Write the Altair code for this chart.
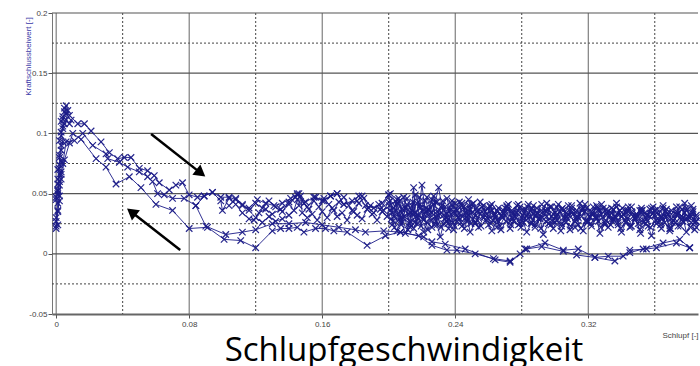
import altair as alt
import pandas as pd

# ---- data (x = Schlupf, y = Kraftschlussbeiwert) ----
ramp_up = [(0.000, 0.023), (0.000, 0.030), (0.001, 0.042), (0.000, 0.047), (0.001, 0.050), (0.001, 0.058),
           (0.002, 0.066), (0.001, 0.070), (0.002, 0.074), (0.002, 0.082), (0.003, 0.090), (0.002, 0.094),
           (0.003, 0.098), (0.004, 0.106), (0.003, 0.110), (0.004, 0.112), (0.005, 0.118), (0.006, 0.123),
           (0.008, 0.115), (0.013, 0.108), (0.017, 0.108), (0.021, 0.102), (0.027, 0.093), (0.032, 0.084),
           (0.037, 0.079), (0.041, 0.080), (0.045, 0.080), (0.050, 0.071), (0.055, 0.069), (0.059, 0.065),
           (0.062, 0.059), (0.068, 0.053), (0.072, 0.057), (0.076, 0.059), (0.080, 0.049), (0.085, 0.047),
           (0.089, 0.048), (0.094, 0.051), (0.099, 0.047), (0.104, 0.047), (0.108, 0.045), (0.112, 0.040),
           (0.116, 0.038), (0.121, 0.045), (0.126, 0.042), (0.131, 0.040), (0.136, 0.042), (0.141, 0.046),
           (0.145, 0.049), (0.150, 0.043), (0.155, 0.047), (0.160, 0.044), (0.165, 0.048), (0.169, 0.050),
           (0.173, 0.041), (0.178, 0.044), (0.182, 0.048), (0.186, 0.040), (0.191, 0.038), (0.196, 0.042),
           (0.200, 0.049)]

ramp_dense = [(0.001, 0.024), (0.000, 0.027), (0.001, 0.036), (0.002, 0.044), (0.001, 0.053), (0.002, 0.057),
              (0.001, 0.062), (0.003, 0.066), (0.002, 0.071), (0.003, 0.077), (0.002, 0.080), (0.003, 0.086),
              (0.004, 0.093), (0.003, 0.101), (0.004, 0.104), (0.005, 0.108), (0.004, 0.114), (0.006, 0.116),
              (0.005, 0.121), (0.007, 0.119), (0.006, 0.111), (0.008, 0.108), (0.009, 0.111)]

middle_curve = [(0.000, 0.045), (0.001, 0.052), (0.002, 0.060), (0.003, 0.068), (0.004, 0.075), (0.006, 0.093),
                (0.011, 0.094), (0.016, 0.100), (0.022, 0.090), (0.030, 0.083), (0.031, 0.079), (0.038, 0.076),
                (0.043, 0.072), (0.050, 0.068), (0.055, 0.064), (0.058, 0.060), (0.061, 0.050), (0.065, 0.049),
                (0.070, 0.046), (0.077, 0.046), (0.084, 0.040), (0.089, 0.048), (0.094, 0.051), (0.099, 0.044),
                (0.100, 0.036), (0.104, 0.046), (0.108, 0.041), (0.112, 0.034), (0.116, 0.029), (0.119, 0.028),
                (0.122, 0.034), (0.126, 0.037), (0.130, 0.033), (0.135, 0.037), (0.140, 0.041), (0.145, 0.050),
                (0.151, 0.039), (0.156, 0.047), (0.161, 0.044), (0.165, 0.048), (0.169, 0.050), (0.173, 0.041),
                (0.181, 0.044), (0.184, 0.048), (0.189, 0.040), (0.195, 0.037), (0.201, 0.050)]

low_curve = [(0.000, 0.021), (0.001, 0.035), (0.002, 0.048), (0.003, 0.062), (0.005, 0.078), (0.008, 0.092),
             (0.010, 0.100), (0.015, 0.095), (0.024, 0.079), (0.030, 0.072), (0.036, 0.058), (0.044, 0.064),
             (0.051, 0.055), (0.060, 0.041), (0.070, 0.036), (0.080, 0.021), (0.091, 0.022), (0.101, 0.012),
             (0.111, 0.011), (0.120, 0.005), (0.130, 0.019), (0.135, 0.021), (0.140, 0.021), (0.145, 0.022),
             (0.149, 0.018), (0.156, 0.021), (0.162, 0.021), (0.167, 0.019), (0.175, 0.018), (0.187, 0.007),
             (0.198, 0.015), (0.207, 0.018), (0.218, 0.015), (0.226, 0.007), (0.235, 0.003), (0.241, 0.003),
             (0.252, 0.000), (0.263, -0.004), (0.273, -0.006), (0.279, 0.000), (0.282, 0.004), (0.294, 0.009),
             (0.305, 0.003), (0.314, 0.004), (0.324, -0.003), (0.332, -0.002), (0.341, -0.002), (0.345, 0.003),
             (0.355, 0.004), (0.361, 0.005), (0.373, 0.009), (0.381, 0.005)]

low_curve_2 = [(0.084, 0.040), (0.090, 0.023), (0.102, 0.016), (0.112, 0.018), (0.120, 0.020), (0.130, 0.025),
               (0.140, 0.025), (0.150, 0.026), (0.160, 0.024), (0.170, 0.022), (0.180, 0.020), (0.186, 0.018),
               (0.197, 0.019), (0.207, 0.018), (0.221, 0.014), (0.226, 0.010), (0.234, 0.008), (0.246, 0.004),
               (0.264, -0.005), (0.273, -0.007), (0.283, 0.004), (0.292, 0.006), (0.305, 0.002), (0.313, -0.001),
               (0.324, -0.003), (0.336, -0.006), (0.345, 0.001), (0.353, 0.004), (0.365, 0.009), (0.375, 0.012),
               (0.381, 0.005)]

mid_band = [(0.120, 0.030), (0.124, 0.026), (0.128, 0.031), (0.132, 0.027), (0.136, 0.029), (0.140, 0.032),
            (0.143, 0.036), (0.145, 0.045), (0.146, 0.040), (0.147, 0.048), (0.148, 0.034), (0.151, 0.030),
            (0.154, 0.033), (0.157, 0.028), (0.160, 0.035), (0.163, 0.030), (0.166, 0.038), (0.169, 0.031),
            (0.172, 0.034), (0.175, 0.028), (0.178, 0.036), (0.181, 0.032), (0.184, 0.029), (0.187, 0.037),
            (0.190, 0.033), (0.193, 0.028), (0.196, 0.035), (0.199, 0.031), (0.201, 0.044)]

mid_band_2 = [(0.104, 0.040), (0.108, 0.046), (0.112, 0.041), (0.116, 0.036), (0.120, 0.042), (0.124, 0.038),
              (0.128, 0.044), (0.132, 0.039), (0.136, 0.035), (0.140, 0.043), (0.144, 0.047), (0.146, 0.050),
              (0.149, 0.042), (0.152, 0.037), (0.155, 0.044), (0.158, 0.039), (0.161, 0.046), (0.164, 0.041),
              (0.167, 0.036), (0.170, 0.043), (0.173, 0.047), (0.176, 0.040), (0.179, 0.035), (0.182, 0.042),
              (0.185, 0.046), (0.188, 0.038), (0.191, 0.034), (0.194, 0.041), (0.197, 0.036), (0.200, 0.043)]

band_a = [(0.200, 0.049), (0.203, 0.031), (0.205, 0.042), (0.208, 0.026), (0.210, 0.038), (0.213, 0.022),
          (0.215, 0.055), (0.216, 0.034), (0.219, 0.041), (0.221, 0.028), (0.224, 0.036), (0.226, 0.045),
          (0.229, 0.024), (0.231, 0.033), (0.234, 0.039), (0.236, 0.021), (0.239, 0.035), (0.242, 0.030),
          (0.244, 0.042), (0.247, 0.027), (0.249, 0.037), (0.252, 0.025), (0.255, 0.033), (0.257, 0.040),
          (0.260, 0.029), (0.262, 0.036), (0.265, 0.022), (0.268, 0.031), (0.270, 0.038), (0.273, 0.027),
          (0.275, 0.034), (0.278, 0.041), (0.281, 0.026), (0.283, 0.032), (0.286, 0.037), (0.288, 0.024),
          (0.291, 0.030), (0.294, 0.036), (0.296, 0.028), (0.299, 0.033), (0.301, 0.039), (0.304, 0.025),
          (0.307, 0.031), (0.309, 0.035), (0.312, 0.022), (0.314, 0.030), (0.317, 0.038), (0.320, 0.027),
          (0.322, 0.033), (0.325, 0.029), (0.327, 0.036), (0.330, 0.024), (0.333, 0.032), (0.335, 0.037),
          (0.338, 0.026), (0.340, 0.031), (0.343, 0.034), (0.346, 0.023), (0.348, 0.030), (0.351, 0.036),
          (0.353, 0.028), (0.356, 0.032), (0.359, 0.039), (0.361, 0.025), (0.364, 0.030), (0.366, 0.035),
          (0.369, 0.021), (0.372, 0.029), (0.374, 0.034), (0.377, 0.027), (0.379, 0.038), (0.382, 0.031),
          (0.384, 0.026)]

band_b = [(0.201, 0.036), (0.204, 0.044), (0.206, 0.028), (0.209, 0.047), (0.212, 0.033), (0.214, 0.040),
          (0.217, 0.025), (0.220, 0.057), (0.222, 0.035), (0.225, 0.030), (0.228, 0.043), (0.230, 0.055),
          (0.233, 0.032), (0.235, 0.027), (0.238, 0.041), (0.240, 0.034), (0.243, 0.029), (0.246, 0.038),
          (0.248, 0.032), (0.251, 0.042), (0.253, 0.028), (0.256, 0.035), (0.259, 0.030), (0.261, 0.039),
          (0.264, 0.033), (0.266, 0.027), (0.269, 0.036), (0.272, 0.041), (0.274, 0.030), (0.277, 0.034),
          (0.279, 0.025), (0.282, 0.037), (0.285, 0.031), (0.287, 0.040), (0.290, 0.029), (0.292, 0.034),
          (0.295, 0.042), (0.298, 0.031), (0.300, 0.026), (0.303, 0.035), (0.305, 0.030), (0.308, 0.040),
          (0.311, 0.033), (0.313, 0.028), (0.316, 0.036), (0.318, 0.041), (0.321, 0.030), (0.324, 0.034),
          (0.326, 0.027), (0.329, 0.038), (0.331, 0.032), (0.334, 0.029), (0.337, 0.042), (0.339, 0.033),
          (0.342, 0.028), (0.344, 0.036), (0.347, 0.031), (0.350, 0.025), (0.352, 0.034), (0.355, 0.029),
          (0.357, 0.037), (0.360, 0.032), (0.363, 0.027), (0.365, 0.040), (0.368, 0.033), (0.370, 0.029),
          (0.373, 0.035), (0.376, 0.028), (0.378, 0.042), (0.381, 0.030), (0.383, 0.035), (0.385, 0.022)]

band_c = [(0.202, 0.024), (0.205, 0.019), (0.207, 0.030), (0.210, 0.017), (0.213, 0.027), (0.215, 0.021),
          (0.218, 0.032), (0.221, 0.018), (0.223, 0.026), (0.226, 0.022), (0.228, 0.031), (0.231, 0.014),
          (0.233, 0.025), (0.236, 0.029), (0.239, 0.020), (0.241, 0.027), (0.244, 0.023), (0.247, 0.031),
          (0.249, 0.018), (0.252, 0.026), (0.254, 0.022), (0.257, 0.030), (0.260, 0.024), (0.262, 0.019),
          (0.265, 0.028), (0.267, 0.023), (0.270, 0.032), (0.273, 0.021), (0.275, 0.027), (0.278, 0.024),
          (0.280, 0.030), (0.283, 0.018), (0.286, 0.026), (0.288, 0.022), (0.291, 0.029), (0.293, 0.016),
          (0.296, 0.025), (0.299, 0.021), (0.301, 0.028), (0.304, 0.023), (0.306, 0.030), (0.309, 0.020),
          (0.312, 0.027), (0.314, 0.024), (0.317, 0.019), (0.319, 0.028), (0.322, 0.023), (0.325, 0.030),
          (0.327, 0.017), (0.330, 0.026), (0.332, 0.022), (0.335, 0.029), (0.338, 0.024), (0.340, 0.018),
          (0.343, 0.027), (0.345, 0.022), (0.348, 0.030), (0.351, 0.020), (0.353, 0.026), (0.356, 0.023),
          (0.358, 0.015), (0.361, 0.028), (0.364, 0.021), (0.366, 0.026), (0.369, 0.019), (0.371, 0.028),
          (0.374, 0.023), (0.377, 0.030), (0.379, 0.018), (0.382, 0.026), (0.384, 0.020)]

band_d = [(0.203, 0.038), (0.206, 0.046), (0.208, 0.034), (0.211, 0.041), (0.214, 0.036), (0.216, 0.049),
          (0.219, 0.038), (0.222, 0.044), (0.224, 0.037), (0.227, 0.048), (0.229, 0.035), (0.232, 0.040),
          (0.235, 0.046), (0.237, 0.036), (0.240, 0.042), (0.242, 0.033), (0.245, 0.039), (0.248, 0.045),
          (0.250, 0.034), (0.253, 0.038), (0.255, 0.043), (0.258, 0.035), (0.261, 0.040), (0.263, 0.032),
          (0.266, 0.038), (0.269, 0.034), (0.271, 0.040), (0.274, 0.036), (0.276, 0.031), (0.279, 0.039),
          (0.282, 0.035), (0.284, 0.041), (0.287, 0.033), (0.289, 0.038), (0.292, 0.036), (0.295, 0.031),
          (0.297, 0.039), (0.300, 0.034), (0.302, 0.041), (0.305, 0.036), (0.308, 0.032), (0.310, 0.038),
          (0.313, 0.034), (0.315, 0.042), (0.318, 0.035), (0.321, 0.031), (0.323, 0.039), (0.326, 0.036),
          (0.328, 0.041), (0.331, 0.034), (0.334, 0.038), (0.336, 0.031), (0.339, 0.036), (0.341, 0.033),
          (0.344, 0.039), (0.346, 0.035), (0.349, 0.030), (0.352, 0.038), (0.354, 0.034), (0.357, 0.031),
          (0.360, 0.036), (0.362, 0.033), (0.365, 0.038), (0.367, 0.031), (0.370, 0.036), (0.373, 0.033),
          (0.375, 0.039), (0.378, 0.034), (0.380, 0.031), (0.383, 0.037), (0.385, 0.032)]

band_e = [(0.2005, 0.040), (0.2025, 0.027), (0.2045, 0.036), (0.2065, 0.044), (0.2085, 0.030), (0.2105, 0.039),
          (0.2125, 0.025), (0.2145, 0.043), (0.2165, 0.031), (0.2185, 0.047), (0.2205, 0.029), (0.2225, 0.038),
          (0.2245, 0.033), (0.2265, 0.041), (0.2285, 0.027), (0.2305, 0.036), (0.2325, 0.044), (0.2345, 0.030),
          (0.2365, 0.038), (0.2385, 0.026), (0.2405, 0.037), (0.2425, 0.043), (0.2445, 0.031), (0.2465, 0.035),
          (0.2485, 0.040), (0.2505, 0.029), (0.2535, 0.036), (0.2565, 0.031), (0.2595, 0.038), (0.2625, 0.028),
          (0.2655, 0.035), (0.2685, 0.030), (0.2715, 0.037), (0.2745, 0.029), (0.2775, 0.036), (0.2805, 0.032),
          (0.2835, 0.039), (0.2865, 0.028), (0.2895, 0.034), (0.2925, 0.030), (0.2955, 0.037), (0.2985, 0.027),
          (0.3015, 0.033), (0.3045, 0.038), (0.3075, 0.029), (0.3105, 0.035), (0.3135, 0.031), (0.3165, 0.037),
          (0.3195, 0.026), (0.3225, 0.034), (0.3255, 0.039), (0.3285, 0.030), (0.3315, 0.035), (0.3345, 0.027),
          (0.3375, 0.033), (0.3405, 0.038), (0.3435, 0.029), (0.3465, 0.034), (0.3495, 0.031), (0.3525, 0.036),
          (0.3555, 0.027), (0.3585, 0.033), (0.3615, 0.037), (0.3645, 0.029), (0.3675, 0.034), (0.3705, 0.026),
          (0.3735, 0.032), (0.3765, 0.037), (0.3795, 0.029), (0.3825, 0.034), (0.3850, 0.027)]

band_f = [(0.2015, 0.029), (0.2035, 0.022), (0.2055, 0.033), (0.2075, 0.024), (0.2095, 0.031), (0.2115, 0.020),
          (0.2135, 0.034), (0.2155, 0.026), (0.2175, 0.030), (0.2195, 0.023), (0.2215, 0.033), (0.2235, 0.020),
          (0.2255, 0.028), (0.2275, 0.024), (0.2295, 0.032), (0.2315, 0.022), (0.2335, 0.029), (0.2355, 0.025),
          (0.2375, 0.033), (0.2395, 0.023), (0.2415, 0.030), (0.2435, 0.026), (0.2455, 0.021), (0.2475, 0.029),
          (0.2495, 0.025), (0.2525, 0.032), (0.2555, 0.023), (0.2585, 0.028), (0.2615, 0.025), (0.2645, 0.031),
          (0.2675, 0.020), (0.2705, 0.027), (0.2735, 0.024), (0.2765, 0.030), (0.2795, 0.022), (0.2825, 0.028),
          (0.2855, 0.025), (0.2885, 0.032), (0.2915, 0.021), (0.2945, 0.027), (0.2975, 0.024), (0.3005, 0.031),
          (0.3035, 0.019), (0.3065, 0.026), (0.3095, 0.023), (0.3125, 0.030), (0.3155, 0.021), (0.3185, 0.027),
          (0.3215, 0.025), (0.3245, 0.031), (0.3275, 0.022), (0.3305, 0.028), (0.3335, 0.024), (0.3365, 0.030),
          (0.3395, 0.021), (0.3425, 0.026), (0.3455, 0.023), (0.3485, 0.029), (0.3515, 0.017), (0.3545, 0.025),
          (0.3575, 0.022), (0.3605, 0.028), (0.3635, 0.024), (0.3665, 0.030), (0.3695, 0.021), (0.3725, 0.026),
          (0.3755, 0.023), (0.3785, 0.029), (0.3815, 0.022), (0.3845, 0.027)]

band_g = [(0.2020, 0.034), (0.2050, 0.045), (0.2080, 0.037), (0.2110, 0.046), (0.2140, 0.033), (0.2170, 0.042),
          (0.2200, 0.036), (0.2230, 0.047), (0.2260, 0.034), (0.2290, 0.043), (0.2320, 0.038), (0.2350, 0.033),
          (0.2380, 0.044), (0.2410, 0.036), (0.2440, 0.040), (0.2470, 0.033), (0.2500, 0.041), (0.2530, 0.035),
          (0.2560, 0.039), (0.2590, 0.033), (0.2620, 0.041), (0.2650, 0.036), (0.2680, 0.032), (0.2710, 0.039),
          (0.2740, 0.034), (0.2770, 0.040), (0.2800, 0.036), (0.2830, 0.031), (0.2860, 0.038), (0.2890, 0.034),
          (0.2920, 0.041), (0.2950, 0.035), (0.2980, 0.039), (0.3010, 0.032), (0.3040, 0.037), (0.3070, 0.034),
          (0.3100, 0.040), (0.3130, 0.036), (0.3160, 0.031), (0.3190, 0.038), (0.3220, 0.035), (0.3250, 0.040),
          (0.3280, 0.033), (0.3310, 0.037), (0.3340, 0.034), (0.3370, 0.039), (0.3400, 0.031), (0.3430, 0.036),
          (0.3460, 0.039), (0.3490, 0.033), (0.3520, 0.036), (0.3550, 0.032), (0.3580, 0.038), (0.3610, 0.034),
          (0.3640, 0.031), (0.3670, 0.037), (0.3700, 0.033), (0.3730, 0.039), (0.3760, 0.031), (0.3790, 0.036),
          (0.3820, 0.040), (0.3850, 0.030)]

series = {"ramp_up": ramp_up, "ramp_dense": ramp_dense, "middle": middle_curve, "low": low_curve,
          "low2": low_curve_2, "mid_band": mid_band, "mid_band_2": mid_band_2, "band_a": band_a,
          "band_b": band_b, "band_c": band_c, "band_d": band_d, "band_e": band_e, "band_f": band_f,
          "band_g": band_g}

# arrows: tail point and head (triangle centre) in data units, head angle in degrees
arrow_tail_x = [0.0571, 0.0746]
arrow_tail_y = [0.0995, 0.0032]
arrow_head_x = [0.0870, 0.0453]
arrow_head_y = [0.0670, 0.0348]
arrow_angle = [128, 308]

x_major = [0, 0.08, 0.16, 0.24, 0.32]
x_minor = [0.04, 0.12, 0.20, 0.28, 0.36]
y_major = [0.2, 0.15, 0.1, 0.05, 0]
y_minor = [0.175, 0.125, 0.075, 0.025, -0.025]
y_ticks = [-0.05, 0, 0.05, 0.1, 0.15, 0.2]

rows = []
for name, pts in series.items():
    for i, (xv, yv) in enumerate(pts):
        rows.append({"series": name, "idx": i, "x": xv, "y": yv})
df = pd.DataFrame(rows)

NAVY = "#1c1c88"
xs = alt.Scale(domain=[-0.0025, 0.386], nice=False, zero=False)
ys = alt.Scale(domain=[-0.05, 0.2], nice=False, zero=False)
lbl = "replace(format(datum.value, '.2~f'), '\u2212', '-')"

xaxis = alt.Axis(values=x_major, grid=False, labelExpr=lbl, title="Schlupf [-]", tickSize=4,
                 tickColor="#555", domainColor="#666", domainWidth=2, labelPadding=2,
                 titleX=628, titleY=21, titleAlign="center", titleBaseline="middle",
                 titleFontSize=8, titleFontWeight="normal", titleColor="#444", titleFont="Liberation Sans")
yaxis = alt.Axis(values=y_ticks, grid=False, labelExpr=lbl, title="Kraftschlussbeiwert [-]", tickSize=4,
                 tickColor="#555", domainColor="#777", domainWidth=1, labelPadding=1,
                 titleX=-24, titleY=43, titleAngle=270, titleAlign="center", titleBaseline="middle",
                 titleFontSize=8, titleFontWeight="normal", titleColor="#3a3aa8", titleFont="Liberation Sans")

base_points = alt.Chart(df)
lines = base_points.mark_line(color=NAVY, strokeWidth=1.0, opacity=0.9).encode(
    x=alt.X("x:Q", scale=xs, axis=xaxis),
    y=alt.Y("y:Q", scale=ys, axis=yaxis),
    detail="series:N", order="idx:Q")
pts = base_points.mark_point(shape="M-1,-1L1,1M-1,1L1,-1", size=42, filled=False,
                             color=NAVY, strokeWidth=1.2, opacity=0.95).encode(
    x=alt.X("x:Q", scale=xs), y=alt.Y("y:Q", scale=ys))

gx_major = alt.Chart(pd.DataFrame({"v": x_major})).mark_rule(color="#666", strokeWidth=1).encode(
    x=alt.X("v:Q", scale=xs))
gx_minor = alt.Chart(pd.DataFrame({"v": x_minor})).mark_rule(color="#444", strokeWidth=1, strokeDash=[2, 2]).encode(
    x=alt.X("v:Q", scale=xs))
gy_major = alt.Chart(pd.DataFrame({"v": y_major})).mark_rule(color="#555", strokeWidth=1.2).encode(
    y=alt.Y("v:Q", scale=ys))
gy_minor = alt.Chart(pd.DataFrame({"v": y_minor})).mark_rule(color="#444", strokeWidth=1, strokeDash=[2, 2]).encode(
    y=alt.Y("v:Q", scale=ys))

adf = pd.DataFrame({"x": arrow_tail_x, "y": arrow_tail_y, "x2": arrow_head_x, "y2": arrow_head_y,
                    "angle": arrow_angle})
shafts = alt.Chart(adf).mark_rule(color="black", strokeWidth=2.5).encode(
    x=alt.X("x:Q", scale=xs), y=alt.Y("y:Q", scale=ys), x2="x2:Q", y2="y2:Q")
heads = alt.Chart(adf).mark_point(shape="triangle-up", size=170, filled=True, color="black", opacity=1).encode(
    x=alt.X("x2:Q", scale=xs), y=alt.Y("y2:Q", scale=ys), angle=alt.Angle("angle:Q", scale=None))

caption = alt.Chart(pd.DataFrame({"t": ["Schlupfgeschwindigkeit"]})).mark_text(
    font="Open Sans", fontSize=33, fontWeight="normal", color="black", align="center",
    baseline="alphabetic").encode(text="t:N", x=alt.value(352), y=alt.value(348))

chart = alt.layer(gx_minor, gy_minor, gx_major, gy_major, lines, pts, shafts, heads, caption).properties(
    width=646, height=301,
    autosize=alt.AutoSizeParams(type="none"),
    padding={"left": 52, "top": 13, "right": 2, "bottom": 52},
).configure_view(stroke=None).configure_axis(
    labelFont="Liberation Sans", labelFontSize=8, labelColor="#444")

chart.save("out.html", embed_options={"renderer": "svg", "actions": False})
